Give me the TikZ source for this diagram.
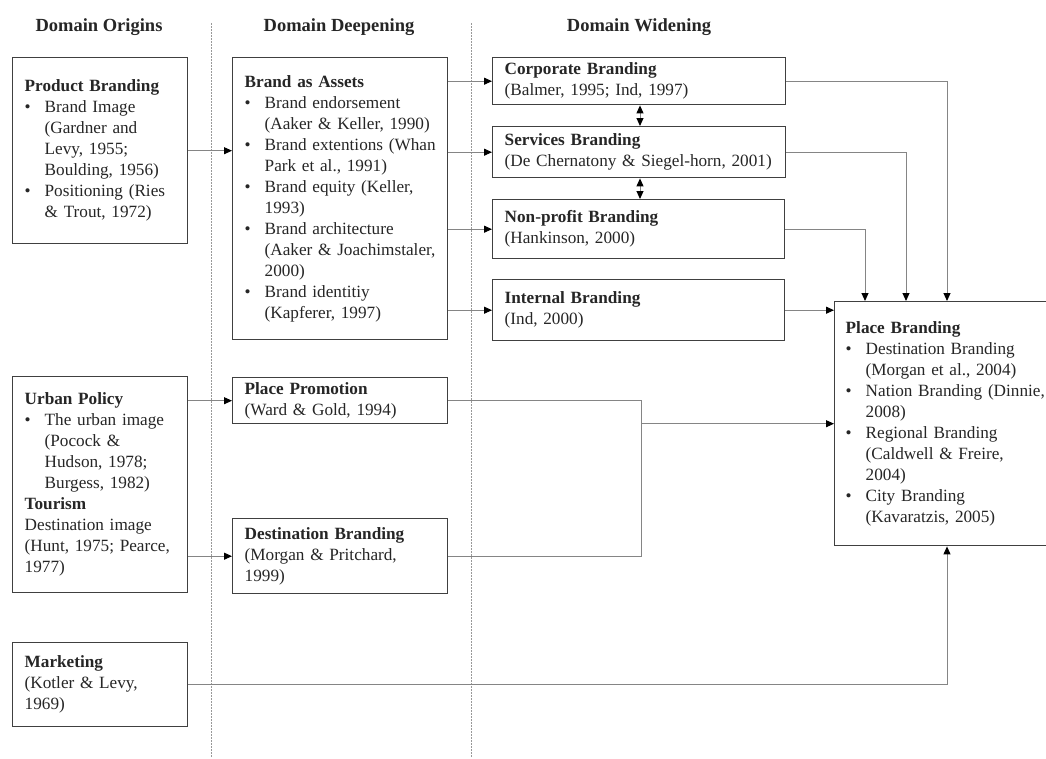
\documentclass[tikz,border=0pt]{standalone}
\usepackage{fontspec}
\setmainfont{Liberation Serif}
\usetikzlibrary{arrows.meta}
\definecolor{boxc}{HTML}{404040}
\definecolor{connc}{HTML}{858585}
\definecolor{txtc}{HTML}{262626}
\newcommand\bitem[1]{\mbox{\makebox[20pt][l]{\textbullet}#1}}
\newcommand\cnt[1]{\mbox{\hspace*{20pt}#1}}
\newcommand\lin[1]{\mbox{#1}}
\newcommand\hd[1]{\mbox{\textbf{#1}}}
\tikzset{
  box/.style={draw=boxc, line width=1.4pt, rectangle, anchor=north west,
    inner xsep=12pt, inner ysep=0pt, align=left, text=txtc,
    font=\fontsize{17.2}{21}\selectfont},
  header/.style={font=\fontsize{18.5}{22}\selectfont\bfseries, text=txtc, inner sep=0pt},
  conn/.style={draw=connc, line width=1pt},
  tip/.style={conn, -{Triangle[length=8pt,width=7pt,color=black]}},
  dtip/.style={conn, {Triangle[length=8pt,width=7pt,color=black]}-{Triangle[length=8pt,width=7pt,color=black]}},
  divider/.style={draw=gray!80, line width=0.8pt, dash pattern=on 1.5pt off 1.5pt}
}
\begin{document}
\begin{tikzpicture}[x=1pt,y=-1pt]
\useasboundingbox (0,0) rectangle (1046,758);
\fill[white] (0,0) rectangle (1046,758);

% headers
\node[header] (h1) at (99,27) {Domain Origins};
\node[header] (h2) at (339,27) {Domain Deepening};
\node[header] (h3) at (639,27) {Domain Widening};

% dividers
\draw[divider] (211,23) -- (211,758);
\draw[divider] (471,23) -- (471,758);

% column 1
\node[box, minimum width=175pt, minimum height=186pt, text width=151pt] (pb) at (12,57) {%
\hd{Product Branding}\\
\bitem{Brand Image}\\
\cnt{(Gardner and}\\
\cnt{Levy, 1955;}\\
\cnt{Boulding, 1956)}\\
\bitem{Positioning (Ries}\\
\cnt{\& Trout, 1972)}};

\node[box, minimum width=175pt, minimum height=216pt, text width=151pt] (up) at (12,376) {%
\hd{Urban Policy}\\
\bitem{The urban image}\\
\cnt{(Pocock \&}\\
\cnt{Hudson, 1978;}\\
\cnt{Burgess, 1982)}\\
\hd{Tourism}\\
\lin{Destination image}\\
\lin{(Hunt, 1975; Pearce,}\\
\lin{1977)}};

\node[box, minimum width=175pt, minimum height=84pt, text width=151pt] (mk) at (12,642) {%
\hd{Marketing}\\
\lin{(Kotler \& Levy,}\\
\lin{1969)}};

% column 2
\node[box, minimum width=215pt, minimum height=282pt, text width=191pt] (ba) at (232,57) {%
\hd{Brand as Assets}\\
\bitem{Brand endorsement}\\
\cnt{(Aaker \& Keller, 1990)}\\
\bitem{Brand extentions (Whan}\\
\cnt{Park et al., 1991)}\\
\bitem{Brand equity (Keller,}\\
\cnt{1993)}\\
\bitem{Brand architecture}\\
\cnt{(Aaker \& Joachimstaler,}\\
\cnt{2000)}\\
\bitem{Brand identitiy}\\
\cnt{(Kapferer, 1997)}};

\node[box, minimum width=215pt, minimum height=46pt, text width=191pt] (pp) at (232,377) {%
\hd{Place Promotion}\\
\lin{(Ward \& Gold, 1994)}};

\node[box, minimum width=215pt, minimum height=75pt, text width=191pt] (db) at (232,518) {%
\hd{Destination Branding}\\
\lin{(Morgan \& Pritchard,}\\
\lin{1999)}};

% column 3
\node[box, minimum width=293pt, minimum height=47pt, text width=269pt] (cb) at (492,57) {%
\hd{Corporate Branding}\\
\lin{(Balmer, 1995; Ind, 1997)}};

\node[box, minimum width=293pt, minimum height=51pt, text width=269pt] (sb) at (492,126) {%
\hd{Services Branding}\\
\lin{(De Chernatony \& Siegel-horn, 2001)}};

\node[box, minimum width=292pt, minimum height=59pt, text width=268pt] (nb) at (492,199) {%
\hd{Non-profit Branding}\\
\lin{(Hankinson, 2000)}};

\node[box, minimum width=292pt, minimum height=61pt, text width=268pt] (ib) at (492,279) {%
\hd{Internal Branding}\\
\lin{(Ind, 2000)}};

% place branding
\node[box, minimum width=232pt, minimum height=244pt, text width=210pt, inner xsep=11pt] (pl) at (834,301) {%
\hd{Place Branding}\\
\bitem{Destination Branding}\\
\cnt{(Morgan et al., 2004)}\\
\bitem{Nation Branding (Dinnie,}\\
\cnt{2008)}\\
\bitem{Regional Branding}\\
\cnt{(Caldwell \& Freire,}\\
\cnt{2004)}\\
\bitem{City Branding}\\
\cnt{(Kavaratzis, 2005)}};

% helper coordinates
\coordinate (xd) at (640,0);
\coordinate (x1) at (947,0);
\coordinate (x2) at (906,0);
\coordinate (x3) at (865,0);
\coordinate (xb) at (641,0);

% connectors
\draw[tip] (pb.east) -- (ba.west |- pb.east);
\draw[tip] (ba.east |- cb.west) -- (cb.west);
\draw[tip] (ba.east |- sb.west) -- (sb.west);
\draw[tip] (ba.east |- nb.west) -- (nb.west);
\draw[tip] (ba.east |- ib.west) -- (ib.west);

\draw[dtip] (cb.south -| xd) -- (sb.north -| xd);
\draw[dtip] (sb.south -| xd) -- (nb.north -| xd);

\draw[tip] (cb.east) -| (pl.north -| x1);
\draw[tip] (sb.east) -| (pl.north -| x2);
\draw[tip] (nb.east) -| (pl.north -| x3);
\draw[tip] (ib.east) -- (pl.west |- ib.east);

\draw[tip] (up.east |- pp.west) -- (pp.west);
\draw[tip] (up.east |- db.west) -- (db.west);

\draw[conn] (pp.east) -| (xb |- db.east) -- (db.east);
\draw[tip] (xb |- pl.west) -- (pl.west);

\draw[tip] (mk.east) -| (pl.south -| x1);
\end{tikzpicture}
\end{document}
